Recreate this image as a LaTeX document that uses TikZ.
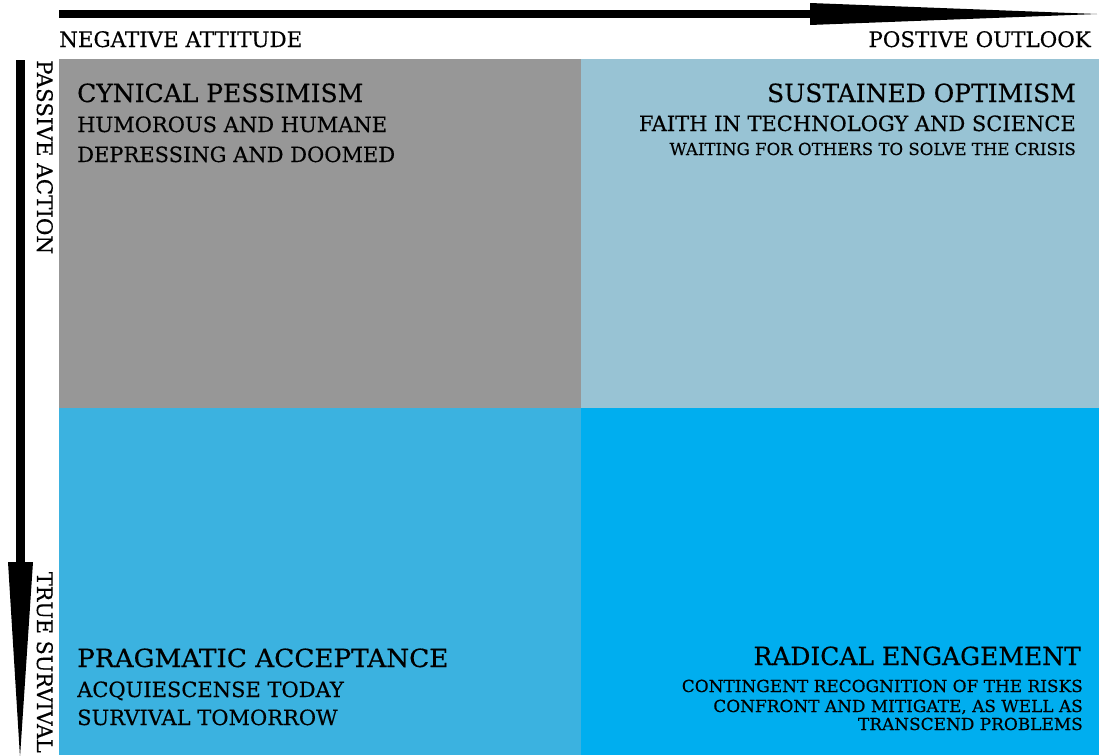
\documentclass[tikz,border=0pt]{standalone}
\usepackage{fontspec}
\setmainfont{DejaVu Serif}[FakeBold=0.4]
\usetikzlibrary{positioning}
\definecolor{pessimismGray}{HTML}{979797}
\definecolor{optimismBlue}{HTML}{98C3D4}
\definecolor{acceptanceBlue}{HTML}{3BB2E0}
\definecolor{engagementBlue}{HTML}{00AEEF}
\newcommand{\attitudeAxis}{%%
  %% The horizontal arrow.
  \fill[arrowStyle] (hstart) rectangle (hshaft);
  \fill[arrowStyle] (hheadtop) -- (hend) -- (hheadbot) -- cycle;
}
\newcommand{\actionAxis}{%%
  %% The vertical arrow.
  \fill[arrowStyle] (vstart) rectangle (vshaft);
  \fill[arrowStyle] (vheadleft) -- (vend) -- (vheadright) -- cycle;
}
\newcommand{\quadrantBox}[3]{%%
  \fill[#3] (#1) rectangle (#2);
}

\begin{document}
\begin{tikzpicture}[%%
  x=1pt,y=-1pt,%%
  arrowStyle/.style={black},%%
  titleStyle/.style={inner sep=0pt,font=\fontsize{25}{27}\selectfont},%%
  subStyle/.style={inner sep=0pt,font=\fontsize{21}{23}\selectfont},%%
  smallStyle/.style={inner sep=0pt,font=\fontsize{16.6}{18}\selectfont},%%
  axisLabelStyle/.style={inner sep=0pt,font=\fontsize{21.4}{23}\selectfont}
]
%%
%%
\pgfmathsetmacro{\xleft}{59}
\pgfmathsetmacro{\xmid}{581}
\pgfmathsetmacro{\xright}{1099}
\pgfmathsetmacro{\ytop}{59}
\pgfmathsetmacro{\ymid}{408}
\pgfmathsetmacro{\ybottom}{755}
\useasboundingbox (0,0) rectangle (\xright,\ybottom);
\coordinate (hstart) at (\xleft,10);
\coordinate (hshaft) at (815,18);
\coordinate (hheadtop) at (810,3);
\coordinate (hheadbot) at (810,25);
\coordinate (hend) at (1097,14);
\coordinate (vstart) at (16,60);
\coordinate (vshaft) at (25,566);
\coordinate (vheadleft) at (8,562);
\coordinate (vheadright) at (33,562);
\coordinate (vend) at (20,757);
%%
%%
%% The four quadrants.
\quadrantBox{\xleft,\ytop}{\xmid,\ymid}{pessimismGray}
\quadrantBox{\xmid,\ytop}{\xright,\ymid}{optimismBlue}
\quadrantBox{\xleft,\ymid}{\xmid,\ybottom}{acceptanceBlue}
\quadrantBox{\xmid,\ymid}{\xright,\ybottom}{engagementBlue}
\attitudeAxis
\actionAxis
%% Axis labels.
\node[axisLabelStyle,anchor=base west] (negLabel) at (\xleft,47) {NEGATIVE ATTITUDE};
\node[axisLabelStyle,anchor=base east] (posLabel) at (1091,47) {POSTIVE OUTLOOK};
\node[axisLabelStyle,anchor=base west,rotate=-90] (passiveLabel) at (37,60) {PASSIVE ACTION};
\node[axisLabelStyle,anchor=base east,rotate=-90,yscale=1,xscale=0.97] (survivalLabel) at (37,753) {TRUE SURVIVAL};
%% Cynical pessimism.
\node[titleStyle,anchor=base west] (pessTitle) at (77,102) {CYNICAL PESSIMISM};
\node[subStyle,anchor=base west] (pessLineA) at (77,132) {HUMOROUS AND HUMANE};
\node[subStyle,anchor=base west] (pessLineB) at (77,162) {DEPRESSING AND DOOMED};
%% Sustained optimism.
\node[titleStyle,anchor=base east] (optTitle) at (1076,102) {SUSTAINED OPTIMISM};
\node[subStyle,anchor=base east] (optLineA) at (1076,131) {FAITH IN TECHNOLOGY AND SCIENCE};
\node[smallStyle,anchor=base east] (optLineB) at (1076,155) {WAITING FOR OTHERS TO SOLVE THE CRISIS};
%% Pragmatic acceptance.
\node[titleStyle,anchor=base west,xscale=1.05] (accTitle) at (77,667) {PRAGMATIC ACCEPTANCE};
\node[subStyle,anchor=base west] (accLineA) at (77,697) {ACQUIESCENSE TODAY};
\node[subStyle,anchor=base west] (accLineB) at (77,725) {SURVIVAL TOMORROW};
%% Radical engagement.
\node[titleStyle,anchor=base east] (engTitle) at (1081,665) {RADICAL ENGAGEMENT};
\node[smallStyle,anchor=base east,xscale=1.02] (engLineA) at (1083,692) {CONTINGENT RECOGNITION OF THE RISKS};
\node[smallStyle,anchor=base east,xscale=1.02] (engLineB) at (1083,712) {CONFRONT AND MITIGATE, AS WELL AS};
\node[smallStyle,anchor=base east,xscale=1.02] (engLineC) at (1083,730) {TRANSCEND PROBLEMS};
\end{tikzpicture}
\end{document}
